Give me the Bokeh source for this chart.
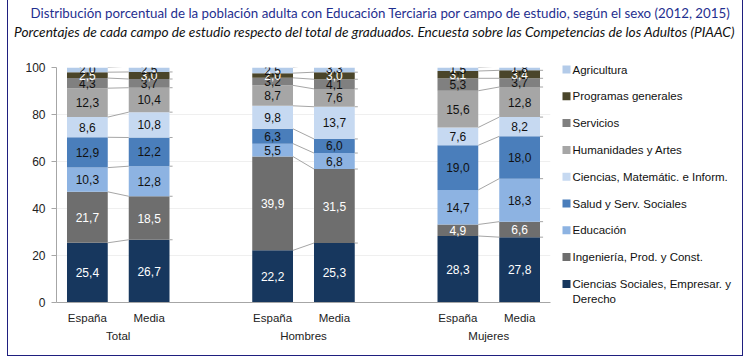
from bokeh.plotting import figure
from bokeh.models import (FactorRange, Range1d, ColumnDataSource, Label, FixedTicker)
from bokeh.layouts import column, row
from bokeh.core.properties import value
from bokeh.embed import file_html
from bokeh.resources import INLINE

# ---------------- data ----------------
title_text = ("Distribución porcentual de la población adulta con Educación Terciaria "
              "por campo de estudio, según el sexo (2012, 2015)")
subtitle_text = ("Porcentajes de cada campo de estudio respecto del total de graduados. "
                 "Encuesta sobre las Competencias de los Adultos (PIAAC)")

groups = ["Total", "Hombres", "Mujeres"]
subgroups = ["España", "Media"]

fields = ["Ciencias Sociales, Empresar. y Derecho", "Ingeniería, Prod. y  Const.",
          "Educación", "Salud y Serv. Sociales", "Ciencias, Matemátic. e Inform.",
          "Humanidades y Artes", "Servicios", "Programas generales", "Agricultura"]
legend_lines = [["Ciencias Sociales, Empresar. y", "Derecho"], ["Ingeniería, Prod. y  Const."],
                ["Educación"], ["Salud y Serv. Sociales"], ["Ciencias, Matemátic. e Inform."],
                ["Humanidades y Artes"], ["Servicios"], ["Programas generales"], ["Agricultura"]]

# order: Total-España, Total-Media, Hombres-España, Hombres-Media, Mujeres-España, Mujeres-Media
ciencias_sociales = [25.4, 26.7, 22.2, 25.3, 28.3, 27.8]
ingenieria = [21.7, 18.5, 39.9, 31.5, 4.9, 6.6]
educacion = [10.3, 12.8, 5.5, 6.8, 14.7, 18.3]
salud = [12.9, 12.2, 6.3, 6.0, 19.0, 18.0]
ciencias_mat = [8.6, 10.8, 9.8, 13.7, 7.6, 8.2]
humanidades = [12.3, 10.4, 8.7, 7.6, 15.6, 12.8]
servicios = [4.3, 3.7, 3.2, 4.1, 5.3, 3.7]
programas = [2.5, 3.0, 2.0, 3.0, 3.1, 3.4]
agricultura = [2.0, 2.5, 2.5, 3.3, 1.5, 1.8]

series = [ciencias_sociales, ingenieria, educacion, salud, ciencias_mat,
          humanidades, servicios, programas, agricultura]
colors = ["#17375E", "#6E6E6E", "#8DB3E2", "#4A7EBB", "#C6D9F1",
          "#A6A6A6", "#808080", "#4A452A", "#B3CBE9"]
label_colors = ["white", "white", "#111111", "#111111", "#111111",
                "#111111", "#111111", "white", "#111111"]

yticks = [0, 20, 40, 60, 80, 100]

FONT = "Liberation Sans"
TFONT = "Lato"
NAVY = "#1F2F8F"
BORDER = "#1F1F7F"

TOTAL_W = 734
TITLE_H = 58
FRAME_W, FRAME_H = 494, 235
MB_L, MB_R, MB_T, MB_B = 48, 4, 9, 53
CHART_W = MB_L + FRAME_W + MB_R
CHART_H = MB_T + FRAME_H + MB_B
LEG_W = TOTAL_W - CHART_W


def no_align(f):
    if hasattr(f, "frame_align"):
        f.frame_align = False
    return f


def blank(width, height, x0, x1, y0, y1):
    f = figure(frame_width=width, frame_height=height, x_range=Range1d(x0, x1),
               y_range=Range1d(y0, y1), output_backend="svg", toolbar_location=None,
               x_axis_type=None, y_axis_type=None, min_border=0, title=None)
    f.min_border_left = f.min_border_right = f.min_border_top = f.min_border_bottom = 0
    f.outline_line_color = None
    f.grid.grid_line_color = None
    return no_align(f)


# ---------------- titles ----------------
tf = blank(TOTAL_W, TITLE_H, 0, TOTAL_W, TITLE_H, 0)
tf.text(x=[372], y=[12], text=[title_text], text_align="center", text_baseline="middle",
        text_font=value(TFONT), text_font_size="13.3px", text_color=NAVY)
tf.text(x=[366], y=[31], text=[subtitle_text], text_align="center", text_baseline="middle",
        text_font=value(TFONT), text_font_size="13.7px", text_font_style="italic",
        text_color="#111111")

# ---------------- chart ----------------
factors = [(g, s) for g in groups for s in subgroups]
keys = ["s%d" % i for i in range(len(series))]
data = {"x": factors}
for k, s in zip(keys, series):
    data[k] = s
src = ColumnDataSource(data)

p = figure(x_range=FactorRange(*factors, group_padding=1.0, range_padding=0),
           y_range=Range1d(0, 100), frame_width=FRAME_W, frame_height=FRAME_H,
           output_backend="svg", toolbar_location=None, title=None,
           min_border_left=MB_L, min_border_right=MB_R, min_border_bottom=MB_B,
           min_border_top=MB_T)
no_align(p)
p.outline_line_color = None

BW = 0.66
renderers = p.vbar_stack(keys, x="x", width=BW, color=colors, line_color=None, source=src)

sx0, sx1, sy0, sy1 = [], [], [], []
lx, ly, lt, lc = [], [], [], []
for gi, g in enumerate(groups):
    ie, im = 2 * gi, 2 * gi + 1
    ce, cm = 0.0, 0.0
    for si, s in enumerate(series):
        lx.append((g, "España")); ly.append(ce + s[ie] / 2)
        lt.append(("%.1f" % s[ie]).replace(".", ",")); lc.append(label_colors[si])
        lx.append((g, "Media")); ly.append(cm + s[im] / 2)
        lt.append(("%.1f" % s[im]).replace(".", ",")); lc.append(label_colors[si])
        ce += s[ie]; cm += s[im]
        sx0.append((g, "España", BW / 2)); sx1.append((g, "Media", -BW / 2))
        sy0.append(ce); sy1.append(cm)
        sx0.append((g, "Media", BW / 2)); sx1.append((g, "Media", BW / 2 + 0.05))
        sy0.append(cm); sy1.append(cm)

p.segment(x0=sx0, y0=sy0, x1=sx1, y1=sy1, line_color="#A6A6A6", line_width=1)

p.text(x=lx, y=ly, text=lt, text_color=lc, text_align="center", text_baseline="middle",
       text_font=value(FONT), text_font_size="12px")

p.xaxis.major_label_text_font = FONT
p.xaxis.major_label_text_font_size = "11.5px"
p.xaxis.major_label_text_color = "#222222"
p.xaxis.group_text_font = FONT
p.xaxis.group_text_font_size = "11.5px"
p.xaxis.group_text_color = "#222222"
p.xaxis.group_text_font_style = "normal"
p.xaxis.separator_line_alpha = 0
p.xaxis.major_tick_line_color = None
p.xaxis.axis_line_color = "#A6A6A6"
p.xaxis.major_label_standoff = 3

p.yaxis.ticker = FixedTicker(ticks=yticks)
p.yaxis.major_label_text_font = FONT
p.yaxis.major_label_text_font_size = "12px"
p.yaxis.major_label_text_color = "#222222"
p.yaxis.major_tick_in = 0
p.yaxis.major_tick_out = 5
p.yaxis.major_tick_line_color = "#A6A6A6"
p.yaxis.minor_tick_line_color = None
p.yaxis.axis_line_color = "#A6A6A6"
p.yaxis.major_label_standoff = 6

p.xgrid.grid_line_color = None
p.ygrid.grid_line_color = "#EFEFEF"

p.add_layout(Label(x=-0.66, y=100, text="%", text_align="center", text_baseline="middle",
                   text_font=FONT, text_font_size="9px", text_color="#555555"))

# ---------------- legend (drawn) ----------------
lf = blank(LEG_W, CHART_H, 0, LEG_W, CHART_H, 0)
ROW0, DY = 11, 26.8
order = list(reversed(range(len(series))))
gx, gy, gc, tx, ty, tt = [], [], [], [], [], []
for r, si in enumerate(order):
    yc = ROW0 + r * DY
    gx.append(12); gy.append(yc); gc.append(colors[si])
    for li, line in enumerate(legend_lines[si]):
        tx.append(18); ty.append(yc + li * 15.5); tt.append(line)
lf.rect(x=gx, y=gy, width=8, height=8, fill_color=gc, line_color=None)
lf.text(x=tx, y=ty, text=tt, text_align="left", text_baseline="middle",
        text_font=value(FONT), text_font_size="11.5px", text_color="#111111")

layout = column(tf, row(p, lf, spacing=0), spacing=0,
                styles={"margin-left": "7px",
                        "border-left": "1px solid " + BORDER,
                        "border-right": "1px solid " + BORDER,
                        "border-bottom": "1px solid " + BORDER})

open("out.html", "w").write(file_html(layout, INLINE))
